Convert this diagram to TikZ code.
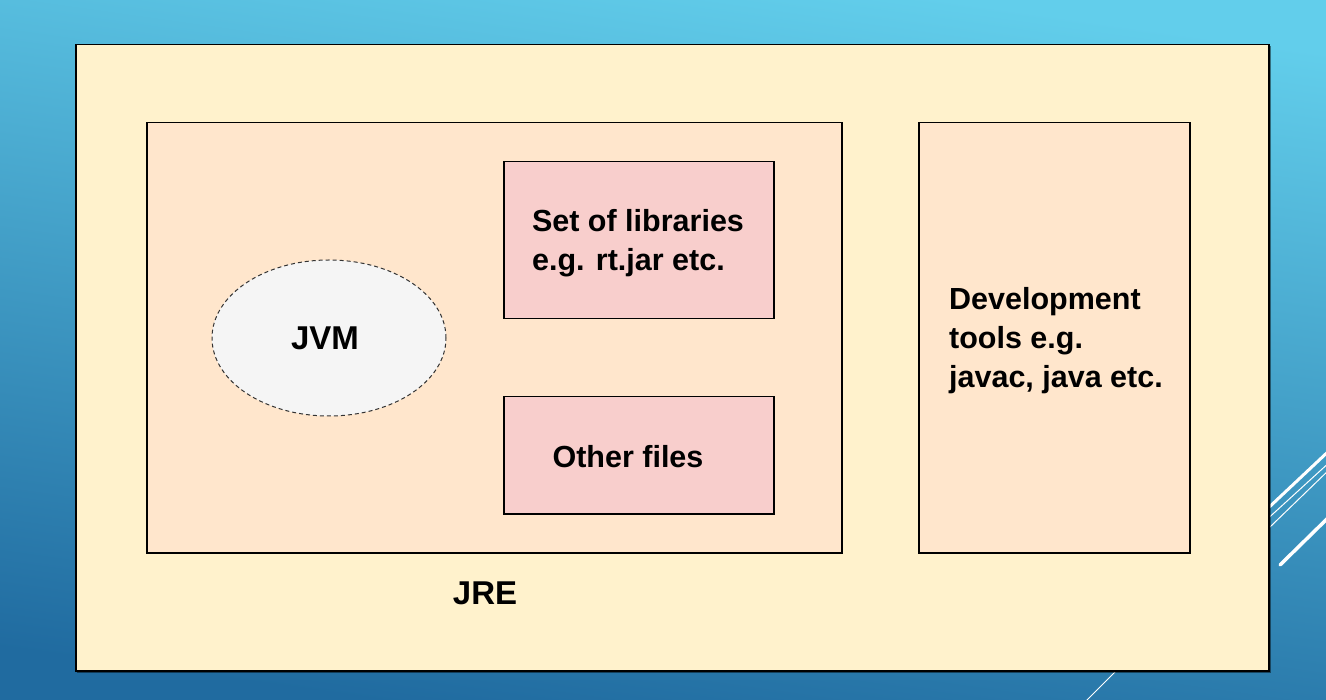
\documentclass[tikz,border=0pt]{standalone}
\usepackage{fontspec}
\setmainfont{Liberation Sans}
\usetikzlibrary{shapes.geometric}
\definecolor{bgtop}{HTML}{62CEEB}
\definecolor{bgbot}{HTML}{206BA0}
\definecolor{outerfill}{HTML}{FFF2CC}
\definecolor{jrefill}{HTML}{FFE6CC}
\definecolor{libfill}{HTML}{F8CECC}
\definecolor{jvmfill}{HTML}{F5F5F5}
\begin{document}
\begin{tikzpicture}[x=1pt,y=-1pt,
  txt/.style={font=\fontsize{30.5}{39}\selectfont\bfseries, text=black, inner sep=0pt, align=left},
  bigtxt/.style={font=\fontsize{33}{38}\selectfont\bfseries, text=black, inner sep=0pt},
  box/.style={draw=black, line width=1.5pt, anchor=north west, inner sep=0pt},
  deco/.style={white, line cap=round}]
\useasboundingbox (0,0) rectangle (1326,700);
\shade[top color=bgtop, bottom color=bgbot, shading angle=-8] (0,0) rectangle (1326,700);
% decorative white lines
\draw[deco, line width=3pt] (1230,544) -- (1332,448);
\draw[deco, line width=1pt] (1240,544) -- (1332,460);
\draw[deco, line width=1pt] (1240,556) -- (1332,467);
\draw[deco, line width=3.5pt] (1280,565) -- (1332,514);
\draw[deco, line width=1pt] (1085,702) -- (1125,662);
% outer box with shadow
\fill[black, opacity=0.45] (77,46) rectangle (1271,673);
\node[box, fill=outerfill, minimum width=1193pt, minimum height=626pt] (outer) at (75,44) {};
\node[box, fill=jrefill, minimum width=695pt, minimum height=430pt] (jre) at (146,122) {};
\node[box, fill=jrefill, minimum width=271pt, minimum height=430pt] (dev) at (918,122) {};
\node[txt] (devtxt) at (1056,341) {Development\\tools e.g.\\javac, java etc.};
\node[box, fill=libfill, minimum width=270pt, minimum height=157pt] (lib) at (503,161) {};
\node[txt] (libtxt) at (638,243) {Set of libraries\\e.g. rt.jar etc.};
\node[box, fill=libfill, minimum width=270pt, minimum height=117pt] (other) at (503,396) {};
\node[txt] (othertxt) at (628,457) {Other files};
\node[ellipse, draw=black!80, dash pattern=on 4pt off 3pt, line width=1pt, fill=jvmfill, minimum width=234pt, minimum height=156pt] (jvm) at (329,338) {};
\node[bigtxt] (jvmtxt) at (325,338) {JVM};
\node[bigtxt] (jrelabel) at (485,593) {JRE};
\end{tikzpicture}
\end{document}
